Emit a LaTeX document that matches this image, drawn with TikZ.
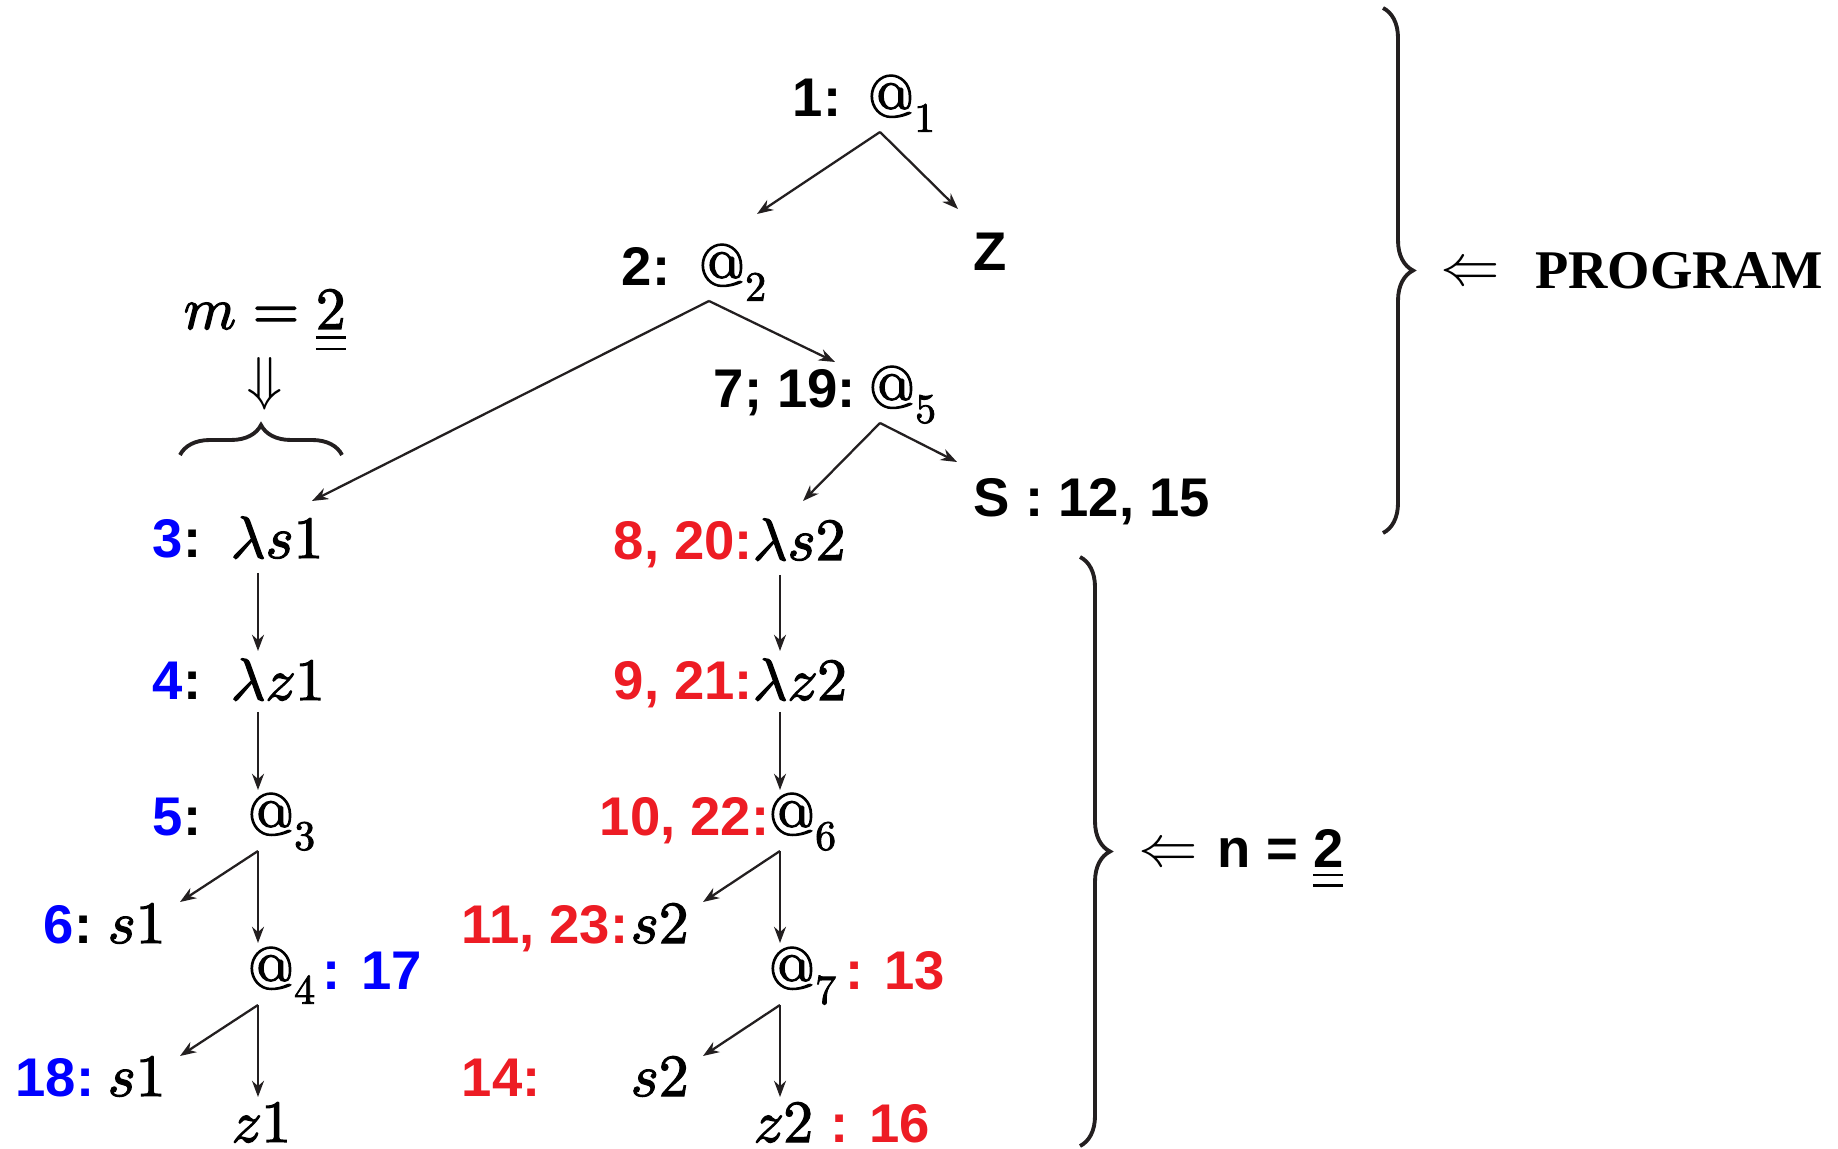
\documentclass[tikz,border=0pt]{standalone}
\usepackage{amsmath}
\usepackage{fontspec}
\usepackage{unicode-math}
\setsansfont{Liberation Sans}
\setmathfont{Latin Modern Math}[FakeBold=2]
\newfontfamily\progfont{Liberation Serif}
\newfontfamily\arrfont{Latin Modern Math}
\usetikzlibrary{arrows.meta, positioning, calc, decorations.pathreplacing}
\definecolor{numblue}{RGB}{0,0,255}
\definecolor{numred}{RGB}{237,28,36}
\definecolor{ink}{RGB}{35,31,32}
\newcommand{\dblul}[1]{\underline{\underline{#1}\vrule depth 1.6pt width 0pt}}

\begin{document}
\begin{tikzpicture}[
    x=0.1mm, y=-0.1mm,
    >={Stealth[length=4.6pt, width=3.4pt]},
    term/.style={
      anchor=base west, inner sep=0pt,
      font=\fontsize{17}{20}\selectfont
    },
    num/.style={
      anchor=base west, inner sep=0pt,
      font=\fontsize{15.5}{18}\selectfont\sffamily\bfseries
    },
    prog/.style={
      inner sep=0pt,
      font=\fontsize{15.5}{18}\selectfont\progfont\bfseries
    },
    arrow/.style={->, line width=0.65pt, ink},
    brace/.style={
      decorate, decoration={brace, amplitude=3mm},
      line width=1.1pt, ink
    }
  ]
    \useasboundingbox (0,0) rectangle (1838,1149);

    % --- Top of the program ---
    \node[num] (l1) at (792,117) {1:};
    \node[term] (at1) at (867,117) {$@_1$};
    \node[num] (l2) at (621,286) {2:};
    \node[term] (at2) at (698,286) {$@_2$};
    \node[num] (zz) at (973,271) {Z};
    \node[num] (l7) at (713,408) {7; 19:};
    \node[term] (at5) at (868,408) {$@_5$};
    \node[num] (ss) at (973,517) {S : 12, 15};

    % --- Left branch (m) ---
    \node[term] (mval) at (183,329) {$m = \dblul{2}$};
    \node[term, anchor=north, below=1pt of mval, font=\fontsize{17}{20}\selectfont\arrfont] (mdown) {⇓};
    \draw[brace] (180,455) -- (342,455);

    \node[num] (l3) at (152,558) {\textcolor{numblue}{3}:};
    \node[term] (ls1) at (230,558) {$\lambda s1$};
    \node[num] (l4) at (152,700) {\textcolor{numblue}{4}:};
    \node[term] (lz1) at (230,700) {$\lambda z1$};
    \node[num] (l5) at (152,835) {\textcolor{numblue}{5}:};
    \node[term] (at3) at (247,835) {$@_3$};
    \node[num] (l6) at (43,943) {\textcolor{numblue}{6}:};
    \node[term] (s1a) at (107,943) {$s1$};
    \node[term] (at4) at (247,989) {$@_4$};
    \node[num, text=numblue] (l17) at (322,989) {: 17};
    \node[num, text=numblue] (l18) at (15,1096) {18:};
    \node[term] (s1b) at (107,1096) {$s1$};
    \node[term] (z1) at (231,1142) {$z1$};

    % --- Right branch (n) ---
    \node[num, text=numred] (l8) at (613,560) {8, 20:};
    \node[term] (ls2) at (752,560) {$\lambda s2$};
    \node[num, text=numred] (l9) at (613,700) {9, 21:};
    \node[term] (lz2) at (752,700) {$\lambda z2$};
    \node[num, text=numred] (l10) at (599,835) {10, 22:};
    \node[term] (at6) at (768,835) {$@_6$};
    \node[num, text=numred] (l11) at (461,943) {11, 23:};
    \node[term] (s2a) at (630,943) {$s2$};
    \node[term] (at7) at (768,989) {$@_7$};
    \node[num, text=numred] (l13) at (845,989) {: 13};
    \node[num, text=numred] (l14) at (461,1096) {14:};
    \node[term] (s2b) at (630,1096) {$s2$};
    \node[term] (z2) at (753,1142) {$z2$};
    \node[num, text=numred] (l16) at (830,1142) {: 16};

    % --- Braces on the right ---
    \draw[brace] (1383,8) -- (1383,533);
    \node[term, anchor=center, font=\fontsize{17}{20}\selectfont\arrfont] (larr1) at (1470,271) {⇐};
    \node[prog, right=3.4mm of larr1] (progr) {PROGRAM};

    \draw[brace] (1080,557) -- (1080,1146);
    \node[term, anchor=center, font=\fontsize{17}{20}\selectfont\arrfont] (larr2) at (1168,852) {⇐};
    \node[num] (nval) at (1217,867) {n = \dblul{2}};

    % --- Edges ---
    \draw[arrow] ($(at1.base west)+(13,15)$) -- ($(at2.base west)+(59,-72)$);
    \draw[arrow] ($(at1.base west)+(13,15)$) -- ($(zz.base west)+(-15,-62)$);
    \draw[arrow] ($(at2.base west)+(11,15)$) -- ($(ls1.base west)+(82,-57)$);
    \draw[arrow] ($(at2.base west)+(11,15)$) -- ($(at5.base west)+(-33,-46)$);
    \draw[arrow] ($(at5.base west)+(12,15)$) -- ($(ls2.base west)+(51,-59)$);
    \draw[arrow] ($(at5.base west)+(12,15)$) -- ($(ss.base west)+(-16,-55)$);

    \draw[arrow] ($(ls1.base west)+(28,15)$) -- ($(lz1.base west)+(28,-49)$);
    \draw[arrow] ($(lz1.base west)+(28,12)$) -- ($(at3.base west)+(11,-45)$);
    \draw[arrow] ($(at3.base west)+(11,16)$) -- ($(s1a.base west)+(73,-41)$);
    \draw[arrow] ($(at3.base west)+(11,16)$) -- ($(at4.base west)+(11,-46)$);
    \draw[arrow] ($(at4.base west)+(11,16)$) -- ($(s1b.base west)+(73,-40)$);
    \draw[arrow] ($(at4.base west)+(11,16)$) -- ($(z1.base west)+(27,-45)$);

    \draw[arrow] ($(ls2.base west)+(28,15)$) -- ($(lz2.base west)+(28,-49)$);
    \draw[arrow] ($(lz2.base west)+(28,12)$) -- ($(at6.base west)+(12,-45)$);
    \draw[arrow] ($(at6.base west)+(12,16)$) -- ($(s2a.base west)+(73,-41)$);
    \draw[arrow] ($(at6.base west)+(12,16)$) -- ($(at7.base west)+(12,-46)$);
    \draw[arrow] ($(at7.base west)+(12,16)$) -- ($(s2b.base west)+(73,-40)$);
    \draw[arrow] ($(at7.base west)+(12,16)$) -- ($(z2.base west)+(27,-45)$);

\end{tikzpicture}
\end{document}
